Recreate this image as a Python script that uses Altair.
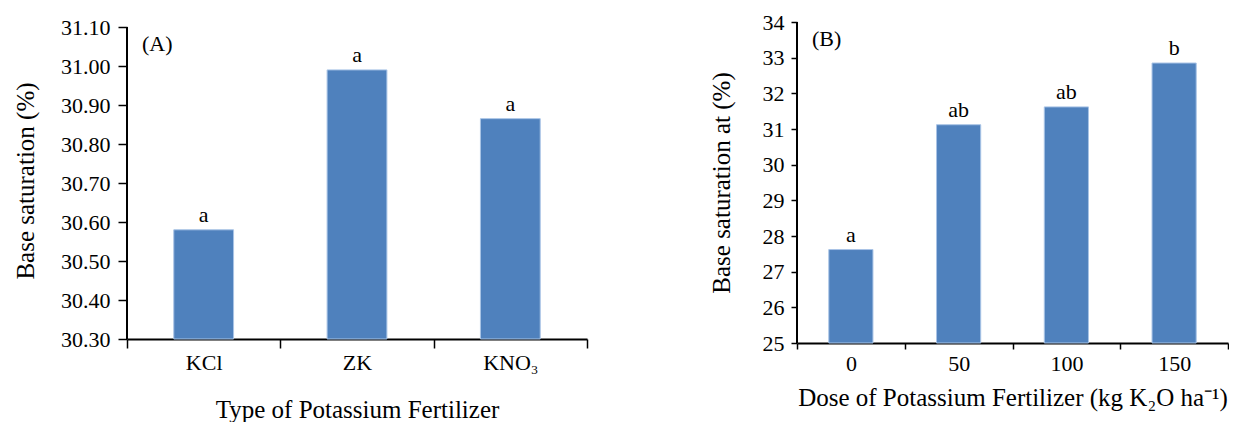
import altair as alt
import pandas as pd

# Panel A data
types = ["KCl", "ZK", "KNO₃"]
sat_a = [30.58, 30.99, 30.865]
sig_a = ["a", "a", "a"]

# Panel B data
doses = ["0", "50", "100", "150"]
sat_b = [27.62, 31.12, 31.62, 32.85]
sig_b = ["a", "ab", "ab", "b"]

ticks_a = [30.30, 30.40, 30.50, 30.60, 30.70, 30.80, 30.90, 31.00, 31.10]
ticks_b = [25, 26, 27, 28, 29, 30, 31, 32, 33, 34]

df_a = pd.DataFrame({"cat": types, "val": sat_a, "sig": sig_a})
df_b = pd.DataFrame({"cat": doses, "val": sat_b, "sig": sig_b})

FONT = "Liberation Serif"
BLUE = "#4f81bd"


def panel(df, order, ticks, dom, yfmt, ytitle, xtitle, tag, w, h, band,
          ytick, ylabpad, ytitlepad, xtick, xlabpad, xtitlepad, tag_y):
    x = alt.X("cat:N", sort=order, title=xtitle,
              scale=alt.Scale(paddingInner=0, paddingOuter=0),
              axis=alt.Axis(labelAngle=0, tickBand="extent", tickSize=xtick, tickWidth=1.5,
                            tickColor="black", domainColor="black", domainWidth=2,
                            labelFont=FONT, labelFontSize=22, labelColor="black",
                            labelPadding=xlabpad, labelBaseline="top",
                            titleFont=FONT, titleFontSize=25, titleFontWeight="normal",
                            titleColor="black", titlePadding=xtitlepad))
    yscale = alt.Scale(domain=dom, zero=False, nice=False)
    yaxis = alt.Axis(values=ticks, format=yfmt, grid=False, tickSize=ytick,
                     tickWidth=1.5, tickColor="black", domain=False,
                     labelOverlap=False, labelFlush=False,
                     labelPadding=ylabpad,
                     labelFont=FONT, labelFontSize=22, labelColor="black",
                     titleFont=FONT, titleFontSize=25, titleFontWeight="normal",
                     titleColor="black", titlePadding=ytitlepad)
    y = alt.Y("val:Q", title=ytitle, scale=yscale, axis=yaxis)
    base = alt.Chart(df).encode(x=x, y=y)
    bars = base.mark_bar(color=BLUE, width={"band": band}, stroke="#a9c4e6",
                         strokeWidth=1).encode(y2=alt.Y2(datum=ticks[0]))
    lab = base.mark_text(font=FONT, fontSize=22, dy=-15, color="black").encode(text="sig:N")
    # y-axis line drawn only between the first and last tick
    yline = alt.Chart(pd.DataFrame({"lo": [ticks[0]], "hi": [ticks[-1]]})).mark_rule(
        color="black", strokeWidth=2).encode(
        x=alt.value(0), y=alt.Y("lo:Q", title=ytitle, scale=yscale, axis=yaxis),
        y2="hi:Q")
    tagm = alt.Chart(pd.DataFrame({"t": [tag]})).mark_text(
        font=FONT, fontSize=22, align="left", color="black").encode(
        x=alt.value(15), y=alt.value(tag_y), text="t:N")
    return alt.layer(bars, lab, yline, tagm).properties(width=w, height=h)


a = panel(df_a, types, ticks_a, [30.3, 30.3 + 0.8 * 317 / 312], ".2f",
          "Base saturation (%)", "Type of Potassium Fertilizer", "(A)", 460, 317, 0.39,
          9, 8, 22, 9, 4, 24, 22)
b = panel(df_b, doses, ticks_b, [25, 34], "d", "Base saturation at (%)",
          "Dose of Potassium Fertilizer (kg K₂O ha⁻¹)", "(B)", 431, 321, 0.41,
          6, 7, 28, 6, 4, 11, 17)

chart = alt.hconcat(a, b, spacing=121).configure_view(stroke=None).properties(
    padding={"left": 5, "top": 3, "right": 0, "bottom": 0}, background="white")

chart.save("out.html", embed_options={"renderer": "svg", "actions": False})
